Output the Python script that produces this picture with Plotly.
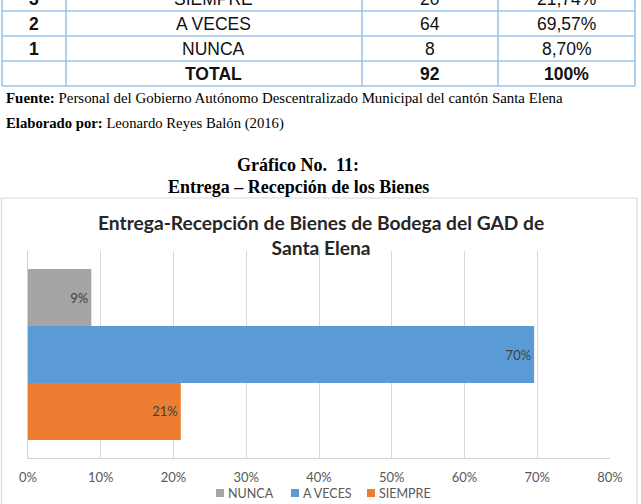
import plotly.graph_objects as go

# ---------------- data ----------------
table_num = ["3", "2", "1", ""]
table_opt = ["SIEMPRE", "A VECES", "NUNCA", "TOTAL"]
table_freq = ["20", "64", "8", "92"]
table_pct = ["21,74%", "69,57%", "8,70%", "100%"]

series_names = ["SIEMPRE", "A VECES", "NUNCA"]
series_values = [0.21, 0.6957, 0.087]
series_colors = ["#ED7D31", "#5B9BD5", "#A5A5A5"]
category = [""]

x_ticks = [0, 0.1, 0.2, 0.3, 0.4, 0.5, 0.6, 0.7, 0.8]

# ---------------- geometry helpers ----------------
W_FIG, H_FIG = 641, 504
L, R, T, B = 28, 610, 251, 458
PW, PH = R - L, B - T


def px(x):
    return (x - L) / PW


def py(y):
    return (B - y) / PH


fig = go.Figure()
for name, val, col in zip(series_names, series_values, series_colors):
    fig.add_trace(go.Bar(
        y=category, x=[val], name=name, orientation="h",
        marker=dict(color=col, line=dict(width=0)),
        texttemplate="%{x:.0%}", textposition="inside",
        insidetextanchor="end", textangle=0, constraintext="none",
        textfont=dict(family="Lato", size=13, color="#404040"),
        hoverinfo="skip", showlegend=False,
    ))

shapes = []
annotations = []

# ---------- table ----------
tcol = "#9DC3E6"
col_x = [2, 66, 362, 498, 635]
row_y = [-14, 11, 36, 61, 86]
for yy in row_y[1:]:
    shapes.append(dict(type="line", xref="paper", yref="paper",
                       x0=px(col_x[0]), x1=px(col_x[-1]), y0=py(yy), y1=py(yy),
                       line=dict(color=tcol, width=1.6), layer="above"))
for xx in col_x:
    shapes.append(dict(type="line", xref="paper", yref="paper",
                       x0=px(xx), x1=px(xx), y0=py(-5), y1=py(86),
                       line=dict(color=tcol, width=1.6), layer="above"))

tfont = "Liberation Sans, Arial"
for i in range(4):
    yc = (row_y[i] + row_y[i + 1]) / 2 + 0.5
    cells = [table_num[i], table_opt[i], table_freq[i], table_pct[i]]
    for j, txt in enumerate(cells):
        bold = (j == 0) or (i == 3)
        t = f"<b>{txt}</b>" if (bold and txt) else txt
        annotations.append(dict(
            xref="paper", yref="paper", x=px((col_x[j] + col_x[j + 1]) / 2), y=py(yc),
            xanchor="center", yanchor="middle", text=t, showarrow=False,
            font=dict(family=tfont, size=17.5, color="#111111")))

# ---------- notes ----------
sfont = "Liberation Serif, Times New Roman"
annotations.append(dict(
    xref="paper", yref="paper", x=px(4), y=py(98), xanchor="left", yanchor="middle",
    text="<b>Fuente:</b> Personal del Gobierno Autónomo Descentralizado Municipal del cantón Santa Elena",
    showarrow=False, font=dict(family=sfont, size=14.9, color="#000000")))
annotations.append(dict(
    xref="paper", yref="paper", x=px(4), y=py(124), xanchor="left", yanchor="middle",
    text="<b>Elaborado por:</b> Leonardo Reyes Balón (2016)",
    showarrow=False, font=dict(family=sfont, size=14.7, color="#000000")))
annotations.append(dict(
    xref="paper", yref="paper", x=px(298), y=py(165), xanchor="center", yanchor="middle",
    text="<b>Gráfico No.  11:</b>",
    showarrow=False, font=dict(family=sfont, size=18, color="#000000")))
annotations.append(dict(
    xref="paper", yref="paper", x=px(298), y=py(187), xanchor="center", yanchor="middle",
    text="<b>Entrega – Recepción de los Bienes</b>",
    showarrow=False, font=dict(family=sfont, size=18, color="#000000")))

# ---------- chart frame ----------
shapes.append(dict(type="rect", xref="paper", yref="paper",
                   x0=px(1.5), x1=px(637), y0=py(198), y1=py(510),
                   line=dict(color="#D9D9D9", width=1.2), fillcolor="rgba(0,0,0,0)",
                   layer="below"))

# chart title
annotations.append(dict(
    xref="paper", yref="paper", x=px(321), y=py(235), xanchor="center", yanchor="middle",
    text="<b>Entrega-Recepción de Bienes de Bodega del GAD de<br>Santa Elena</b>",
    showarrow=False, align="center",
    font=dict(family="Lato", size=19.2, color="#262626")))

# ---------- legend (Excel style: small square + label) ----------
legend_x = [216, 291, 367]          # left edge of each legend square, px
legend_yc = 493
for k, idx in enumerate(reversed(range(len(series_names)))):
    x0 = legend_x[k]
    shapes.append(dict(type="rect", xref="paper", yref="paper",
                       x0=px(x0), x1=px(x0 + 8), y0=py(legend_yc + 4), y1=py(legend_yc - 4),
                       line=dict(width=0), fillcolor=series_colors[idx], layer="above"))
    annotations.append(dict(
        xref="paper", yref="paper", x=px(x0 + 10), y=py(legend_yc), xanchor="left",
        yanchor="middle", text=series_names[idx], showarrow=False,
        font=dict(family="Lato", size=12.5, color="#595959")))

fig.update_layout(
    width=W_FIG, height=H_FIG,
    margin=dict(l=L, r=W_FIG - R, t=T, b=H_FIG - B, pad=0, autoexpand=False),
    paper_bgcolor="white", plot_bgcolor="white",
    barmode="group", bargap=0.174, bargroupgap=0,
    showlegend=False,
    shapes=shapes, annotations=annotations,
)
fig.update_xaxes(range=[0, 0.8], tickvals=x_ticks, tickformat=".0%",
                 showgrid=True, gridcolor="#D9D9D9", gridwidth=1,
                 showline=True, linecolor="#D0D0D0", linewidth=1,
                 zeroline=False, ticks="", ticklabelstandoff=7,
                 tickfont=dict(family="Lato", size=13, color="#595959"),
                 fixedrange=True)
fig.update_yaxes(showticklabels=False, showline=True, linecolor="#D0D0D0",
                 linewidth=1, showgrid=False, ticks="", fixedrange=True)

fig.write_html("out.html", config={"displayModeBar": False})
